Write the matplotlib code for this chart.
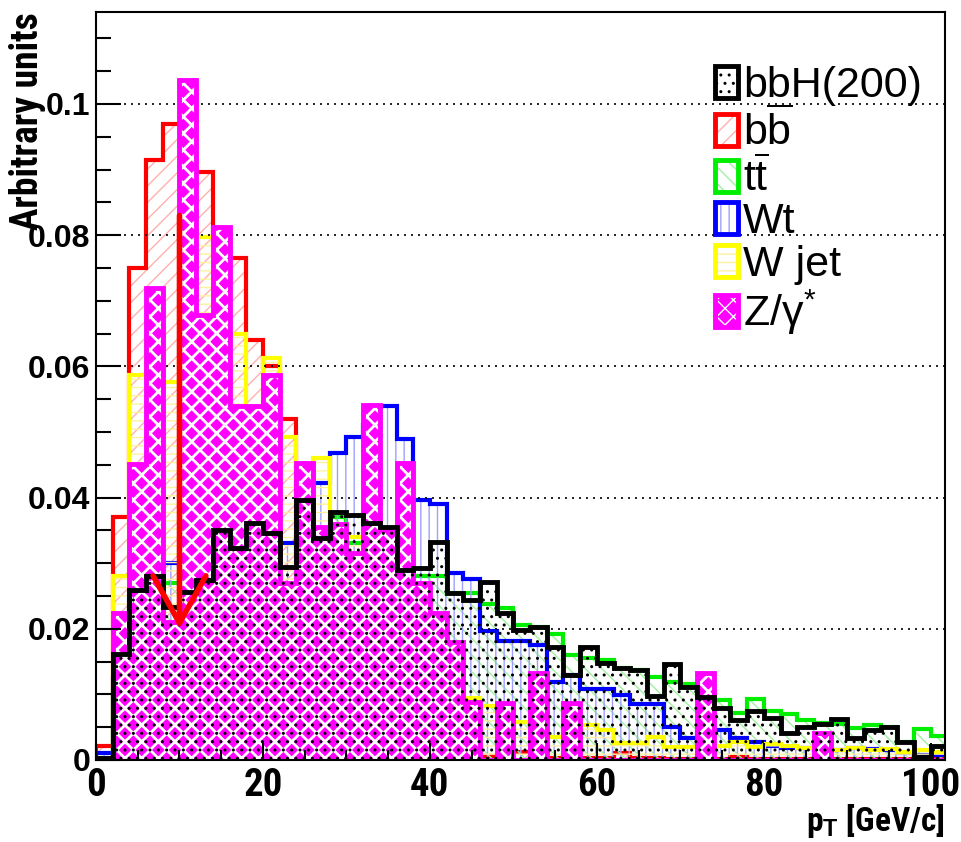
import numpy as np
import matplotlib
matplotlib.use('Agg')
import matplotlib.pyplot as plt
from matplotlib.patches import Patch
from matplotlib.ticker import MultipleLocator
from matplotlib import font_manager

plt.rcParams['font.family'] = ['Liberation Sans', 'DejaVu Sans']
plt.rcParams['mathtext.fontset'] = 'custom'
plt.rcParams['mathtext.rm'] = 'Liberation Sans'
plt.rcParams['mathtext.it'] = 'Liberation Sans:italic'
plt.rcParams['mathtext.bf'] = 'Liberation Sans:bold'
plt.rcParams['hatch.linewidth'] = 1.0

# pick a narrow face if one is installed (ROOT labels look condensed)
installed = {f.name for f in font_manager.fontManager.ttflist}
narrow = 'Liberation Sans'
for nm in ['Liberation Sans Narrow', 'DejaVu Sans Condensed', 'Roboto Condensed']:
    if nm in installed:
        narrow = nm
        break

# 2 GeV bins, 0..102
bin_edges = np.arange(0, 104, 2)

# bbH(200) signal
bbh = [0.0003, 0.0162, 0.0259, 0.028, 0.0233, 0.0256, 0.0274, 0.035, 0.0323, 0.0361,
       0.0346, 0.0294, 0.0396, 0.0338, 0.0378, 0.0373, 0.0361, 0.0355, 0.029, 0.0292,
       0.0332, 0.0255, 0.0244, 0.0271, 0.0224, 0.0198, 0.0203, 0.0172, 0.013, 0.0172,
       0.0148, 0.014, 0.0137, 0.0098, 0.0146, 0.0111, 0.0096, 0.0079, 0.0061, 0.0075,
       0.0064, 0.0041, 0.005, 0.0055, 0.0062, 0.0034, 0.0046, 0.005, 0.0027, 0.0005, 0.0021]
# b bbar
bb = [0.0022, 0.037, 0.075, 0.0915, 0.097, 0.097, 0.0896, 0.079, 0.0765, 0.064,
      0.060, 0.052, 0.0315, 0.023, 0.031, 0.0213, 0.0148, 0.016, 0.005, 0.005,
      0.0073, 0.0018, 0.0018, 0.0006, 0.0004, 0.0012, 0.0004, 0.0003, 0.0004, 0.0003,
      0.0003, 0.0011, 0.0003, 0.0003, 0.0002, 0.0002, 0.0003, 0.0002, 0.0004, 0.0002,
      0.0002, 0.0002, 0.0002, 0.0005, 0.0002, 0.0002, 0.0002, 0.0002, 0.0002, 0.0002, 0.0002]
# t tbar
tt = [0.0003, 0.0105, 0.0235, 0.028, 0.027, 0.028, 0.027, 0.028, 0.027, 0.029,
      0.030, 0.0255, 0.034, 0.031, 0.037, 0.033, 0.033, 0.0325, 0.0305, 0.028,
      0.028, 0.0255, 0.0255, 0.0237, 0.0231, 0.0205, 0.0203, 0.0192, 0.016, 0.0155,
      0.0152, 0.014, 0.0137, 0.0127, 0.0119, 0.0116, 0.0105, 0.0091, 0.0072, 0.0093,
      0.0075, 0.007, 0.0061, 0.0057, 0.0055, 0.0049, 0.0053, 0.005, 0.0027, 0.0047, 0.0037]
# Wt
wt = [0.001, 0.0125, 0.025, 0.029, 0.030, 0.0297, 0.0354, 0.032, 0.032, 0.0305,
      0.0334, 0.0331, 0.0335, 0.0422, 0.0468, 0.0493, 0.051, 0.054, 0.049, 0.0396,
      0.039, 0.0285, 0.0276, 0.0196, 0.0181, 0.0181, 0.0175, 0.0119, 0.013, 0.0108,
      0.0108, 0.0099, 0.0085, 0.0085, 0.005, 0.0034, 0.0043, 0.0046, 0.0034, 0.0027,
      0.0021, 0.0018, 0.0018, 0.0015, 0.0015, 0.0018, 0.0016, 0.0015, 0.001, 0.0008, 0.0008]
# W + jet
wjet = [0.0, 0.028, 0.0587, 0.064, 0.0576, 0.061, 0.0797, 0.071, 0.065, 0.053,
        0.0613, 0.0492, 0.0445, 0.046, 0.032, 0.034, 0.027, 0.019, 0.017, 0.016,
        0.0135, 0.011, 0.0095, 0.0083, 0.0075, 0.0058, 0.0058, 0.0035, 0.004, 0.0053,
        0.0046, 0.0026, 0.0026, 0.0035, 0.002, 0.002, 0.0025, 0.0022, 0.0028, 0.002,
        0.0025, 0.0022, 0.0018, 0.002, 0.0015, 0.0018, 0.0015, 0.0016, 0.0012, 0.0015, 0.0012]
# Z/gamma*
zgamma = [0.0003, 0.0224, 0.0451, 0.072, 0.021, 0.1037, 0.0678, 0.0813, 0.054, 0.054,
          0.0587, 0.027, 0.0453, 0.0355, 0.036, 0.0316, 0.0541, 0.035, 0.0453, 0.027,
          0.0224, 0.018, 0.0088, 0.0, 0.0087, 0.0, 0.0133, 0.0, 0.0087, 0.0,
          0.0, 0.0, 0.0, 0.0, 0.0, 0.0, 0.0133, 0.0, 0.0, 0.0,
          0.0, 0.0, 0.0, 0.0041, 0.0, 0.0, 0.0, 0.0, 0.0, 0.0, 0.0]

labels = ['bbH(200)', 'b$\\overline{\\mathrm{b}}$', 't$\\overline{\\mathrm{t}}$', 'Wt', 'W jet',
          'Z/$\\mathrm{\\gamma}^{*}$']

# pT cut arrow
cut_pt = 10
arrow_top = 0.083
arrow_tip = 0.020

xtick_vals = [0, 20, 40, 60, 80, 100]
ytick_vals = [0, 0.02, 0.04, 0.06, 0.08, 0.1]
ytick_labels = ['0', '0.02', '0.04', '0.06', '0.08', '0.1']

fig = plt.figure(figsize=(9.62, 8.42), dpi=100)
ax = fig.add_axes([0.0998, 0.0974, 0.8825, 0.8883])


def thick_hatch(p, w):
    # per-patch hatch width where this matplotlib allows it
    try:
        p.set_hatch_linewidth(w)
    except AttributeError:
        pass


def draw_hist(vals, line_col, hatch_col, hatch, z, face='none', lw=3, hw=1.0):
    f = ax.stairs(vals, bin_edges, fill=True, facecolor=face, edgecolor=hatch_col,
                  hatch=hatch, linewidth=0, zorder=z)
    thick_hatch(f, hw)
    ax.stairs(vals, bin_edges, color=line_col, linewidth=lw, zorder=z + 0.05)


draw_hist(bb, 'red', '#ffb0b0', '//', 0.2)
draw_hist(tt, '#00ee00', '#a0f0a0', '\\\\', 0.4)
draw_hist(wt, 'blue', '#a0a0ff', '||', 0.6)
draw_hist(wjet, 'yellow', '#fff0a0', '--', 0.8)

# dotted grid lines
for yv in ytick_vals[1:]:
    ax.axhline(yv, color='black', linestyle=(0, (1.2, 3)), linewidth=1.2, zorder=1.0)

draw_hist(zgamma, 'magenta', 'white', 'xx', 1.2, face='magenta', lw=3.5, hw=2.0)
draw_hist(bbh, 'black', 'black', '..', 1.6, lw=3.5)

ax.annotate('', xy=(cut_pt, arrow_tip), xytext=(cut_pt, arrow_top),
            arrowprops=dict(arrowstyle='->,head_length=1.7,head_width=0.95', mutation_scale=20,
                            color='red', lw=4, shrinkA=0, shrinkB=0), zorder=2.2)

ax.set_xlim(0, 101.7)
ax.set_ylim(0, 0.114)

ax.set_xticks(xtick_vals)
ax.set_xticklabels([str(v) for v in xtick_vals])
ax.set_yticks(ytick_vals)
ax.set_yticklabels(ytick_labels)
ax.xaxis.set_minor_locator(MultipleLocator(5))
ax.yaxis.set_minor_locator(MultipleLocator(0.005))
ax.tick_params(axis='x', which='major', direction='in', length=12, width=1.5, pad=5,
               top=False, labelsize=28)
ax.tick_params(axis='x', which='minor', direction='in', length=7, width=1.5, top=False)
ax.tick_params(axis='y', which='major', direction='in', length=18, width=1.5, pad=4,
               right=False, labelsize=23)
ax.tick_params(axis='y', which='minor', direction='in', length=11, width=1.5, right=False)
for lab in ax.get_xticklabels():
    lab.set_fontweight('bold')
    lab.set_family([narrow, 'Liberation Sans'])
for lab in ax.get_yticklabels():
    lab.set_fontweight('bold')
for sp in ax.spines.values():
    sp.set_linewidth(1.5)

ax.set_xlabel('p$_{\\mathbf{T}}$ [GeV/c]', fontsize=24, fontweight='bold', loc='right',
              family=[narrow, 'Liberation Sans'])
ax.xaxis.set_label_coords(1.0, -0.056)
ax.xaxis.label.set_va('top')
ax.set_ylabel('Arbitrary units', fontsize=27, fontweight='bold', loc='top',
              family=[narrow, 'Liberation Sans'])
ax.yaxis.set_label_coords(-0.059, 1.0)

handles = [
    (Patch(facecolor='white', edgecolor='black', hatch='..', lw=0), Patch(facecolor='none', edgecolor='black', lw=3.5)),
    (Patch(facecolor='white', edgecolor='#ffb0b0', hatch='//', lw=0), Patch(facecolor='none', edgecolor='red', lw=3.5)),
    (Patch(facecolor='white', edgecolor='#a0f0a0', hatch='\\\\', lw=0), Patch(facecolor='none', edgecolor='#00ee00', lw=3.5)),
    (Patch(facecolor='white', edgecolor='#a0a0ff', hatch='||', lw=0), Patch(facecolor='none', edgecolor='blue', lw=3.5)),
    (Patch(facecolor='white', edgecolor='#fff0a0', hatch='--', lw=0), Patch(facecolor='none', edgecolor='yellow', lw=3.5)),
    (Patch(facecolor='magenta', edgecolor='white', hatch='xx', lw=0), Patch(facecolor='none', edgecolor='magenta', lw=3.5)),
]
leg = ax.legend(handles, labels, loc='upper left', bbox_to_anchor=(715 / 962, 1 - 66 / 842),
                bbox_transform=fig.transFigure, frameon=False, fontsize=31, borderpad=0,
                borderaxespad=0, handlelength=0.53, handleheight=0.77, handletextpad=0.12,
                labelspacing=0.06)
leg.set_zorder(5)

fig.savefig('out.png', dpi=100)
